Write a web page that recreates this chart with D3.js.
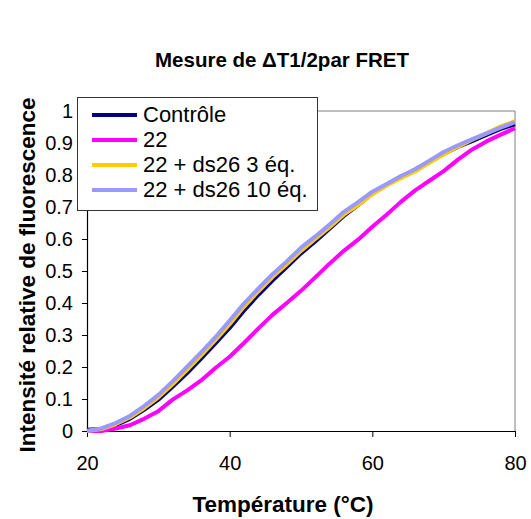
<!DOCTYPE html>
<html>
<head>
<meta charset="utf-8">
<script src="https://cdn.jsdelivr.net/npm/d3@7"></script>
<style>
  html, body { margin: 0; padding: 0; background: #fff; }
  svg { display: block; font-family: Arial, "Liberation Sans", sans-serif; }
</style>
</head>
<body>
<svg id="chart" width="531" height="519"></svg>
<script>
// ---- Data ----
const temperatures = [20,22,24,26,28,30,32,34,36,38,40,42,44,46,48,50,52,54,56,58,60,62,64,66,68,70,72,74,76,78,80];
const seriesNames = ["Contrôle", "22", "22 + ds26 3 éq.", "22 + ds26 10 éq."];
const seriesColors = ["#000080", "#FF00FF", "#FFCC00", "#9999FF"];
const controle = [0.004,0.006,0.018,0.038,0.066,0.098,0.138,0.180,0.226,0.274,0.322,0.376,0.425,0.470,0.512,0.555,0.592,0.632,0.672,0.706,0.742,0.770,0.794,0.817,0.842,0.866,0.888,0.906,0.925,0.944,0.958];
const s22 = [0.000,0.000,0.008,0.018,0.038,0.062,0.098,0.126,0.158,0.197,0.232,0.275,0.320,0.363,0.400,0.438,0.480,0.523,0.563,0.598,0.638,0.676,0.716,0.752,0.782,0.812,0.848,0.880,0.905,0.926,0.946];
const s22ds3 = [0.000,0.006,0.021,0.042,0.071,0.105,0.146,0.190,0.236,0.284,0.334,0.388,0.436,0.481,0.521,0.563,0.600,0.637,0.676,0.706,0.740,0.767,0.790,0.811,0.838,0.864,0.888,0.910,0.930,0.952,0.968];
const s22ds10 = [0.000,0.008,0.025,0.047,0.078,0.113,0.155,0.200,0.246,0.293,0.345,0.398,0.445,0.490,0.530,0.573,0.608,0.645,0.685,0.715,0.748,0.772,0.797,0.818,0.845,0.872,0.893,0.912,0.930,0.948,0.965];
const allSeries = [controle, s22, s22ds3, s22ds10];
const xTicks = [20, 40, 60, 80];
const yTicks = [0,0.1,0.2,0.3,0.4,0.5,0.6,0.7,0.8,0.9,1];
const titleText = "Mesure de ΔT1/2par FRET";
const xTitle = "Température (°C)";
const yTitle = "Intensité relative de fluorescence";

// ---- Layout ----
const svg = d3.select("#chart");
const plot = { left: 87, right: 515, top: 111, bottom: 431 };
const x = d3.scaleLinear().domain([20, 80]).range([plot.left, plot.right]);
const y = d3.scaleLinear().domain([0, 1]).range([plot.bottom, plot.top]);

// plot frame (top/right gray)
svg.append("path")
  .attr("d", `M${plot.left},${plot.top}H${plot.right}V${plot.bottom}`)
  .attr("fill", "none").attr("stroke", "#808080").attr("stroke-width", 1);

// axes
const xAxis = d3.axisBottom(x).tickValues(xTicks).tickSize(6).tickSizeOuter(0).tickPadding(19).tickFormat(d3.format("d"));
const gx = svg.append("g").attr("transform", `translate(0,${plot.bottom})`).call(xAxis);
const yAxis = d3.axisLeft(y).tickValues(yTicks).tickSize(5).tickSizeOuter(0).tickPadding(9).tickFormat(d => d === 0 ? "0" : d === 1 ? "1" : d3.format(".1f")(d));
const gy = svg.append("g").attr("transform", `translate(${plot.left},0)`).call(yAxis);
[gx, gy].forEach(g => {
  g.select(".domain").attr("stroke", "#000").attr("stroke-width", 1.2);
  g.selectAll(".tick line").attr("stroke", "#000");
  g.selectAll(".tick text").attr("fill", "#000").style("font-size", "20px").style("font-family", "Arial, 'Liberation Sans', sans-serif");
});

// lines
const line = d3.line().x((d, i) => x(temperatures[i])).y(d => y(d));
allSeries.forEach((s, k) => {
  svg.append("path").datum(s)
    .attr("d", line)
    .attr("fill", "none")
    .attr("stroke", seriesColors[k])
    .attr("stroke-width", 4)
    .attr("stroke-linejoin", "round");
});

// legend
const lg = svg.append("g");
lg.append("rect").attr("x", 77.5).attr("y", 97.5).attr("width", 240).attr("height", 113)
  .attr("fill", "#fff").attr("stroke", "#333").attr("stroke-width", 1);
seriesNames.forEach((n, k) => {
  const yy = 115 + k * 25;
  lg.append("line").attr("x1", 92).attr("x2", 137).attr("y1", yy).attr("y2", yy)
    .attr("stroke", seriesColors[k]).attr("stroke-width", 4);
  lg.append("text").attr("x", 143).attr("y", yy + 6.5).text(n)
    .style("font-size", "22px").attr("fill", "#000");
});

// titles
svg.append("text").attr("x", 282).attr("y", 67).attr("text-anchor", "middle")
  .style("font-size", "20.5px").style("font-weight", "bold").text(titleText);
svg.append("text").attr("x", 283).attr("y", 512).attr("text-anchor", "middle")
  .style("font-size", "22.5px").style("font-weight", "bold").text(xTitle);
svg.append("text").attr("transform", "translate(35,275) rotate(-90)").attr("text-anchor", "middle")
  .style("font-size", "22.5px").style("font-weight", "bold").text(yTitle);
</script>
</body>
</html>
